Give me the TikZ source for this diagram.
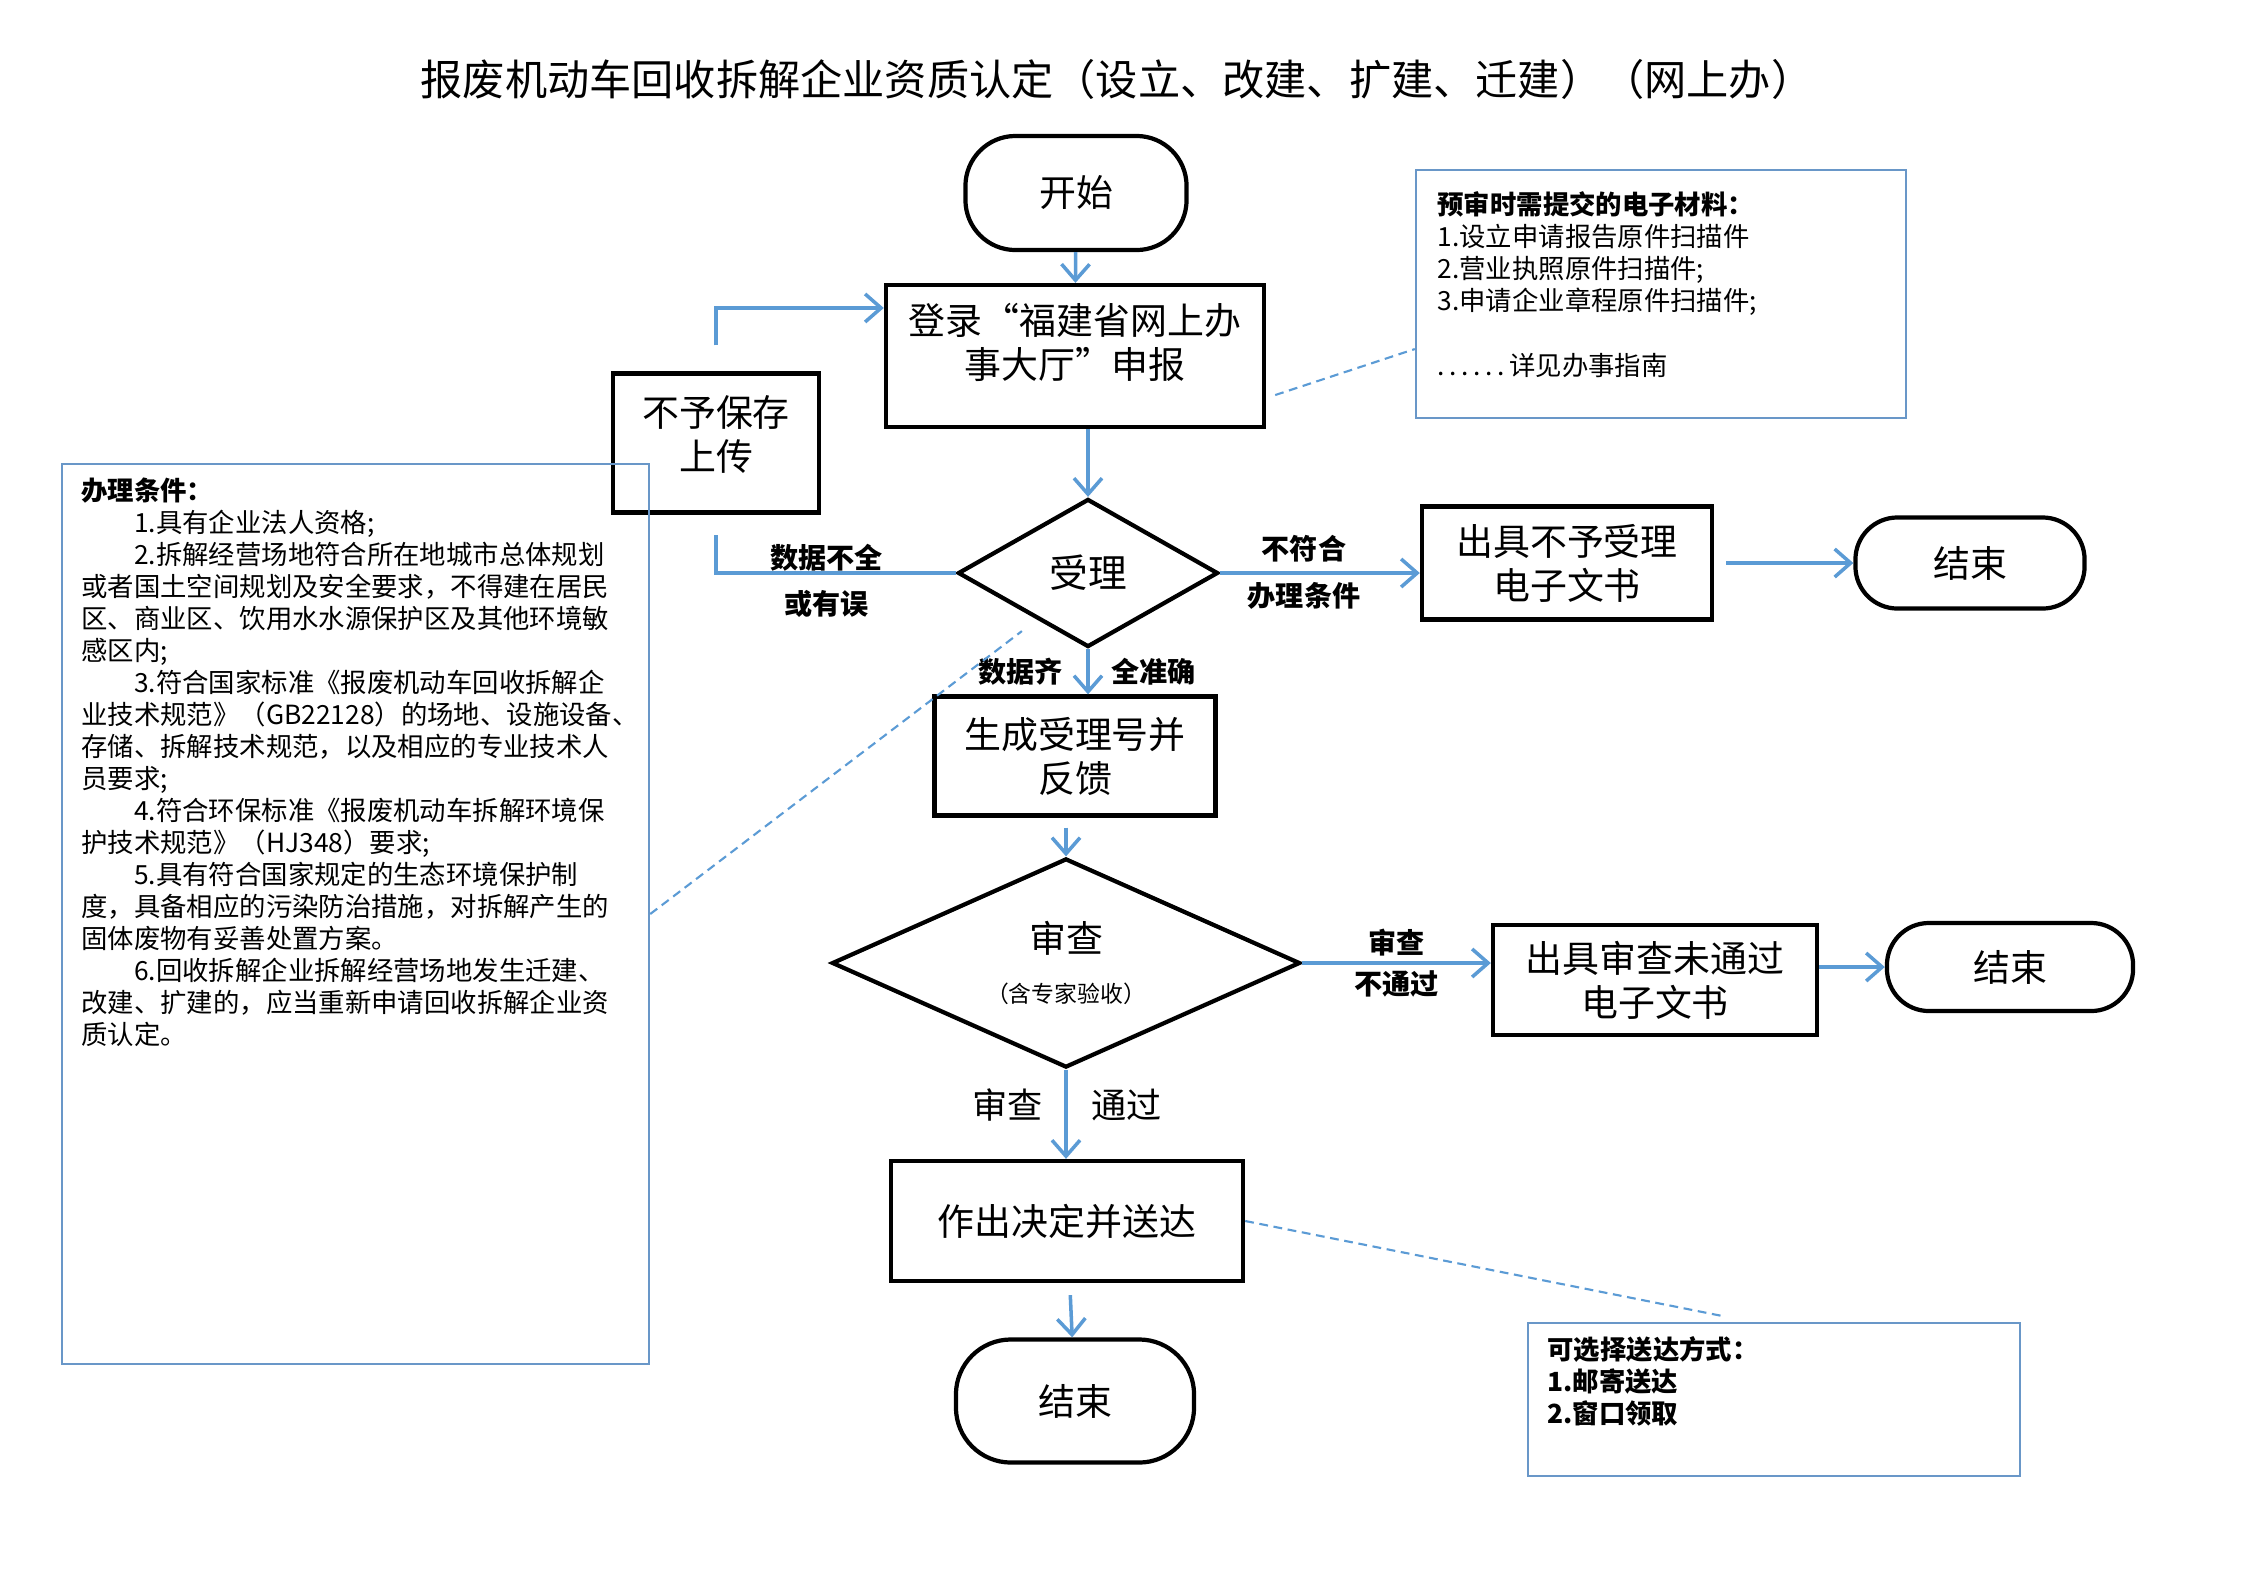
\documentclass[tikz,border=0pt]{standalone}
\usepackage{fontspec}
\setmainfont{Noto Sans CJK SC}
\usetikzlibrary{arrows.meta,positioning,shapes.geometric}
\definecolor{flowblue}{HTML}{5B9BD5}
\definecolor{noteblue}{HTML}{6997C8}

\begin{document}
\begin{tikzpicture}[x=0.01cm,y=-0.01cm,
  box/.style={draw,line width=1.2pt,align=center,inner sep=2pt,font=\fontsize{10.5}{12.5}\selectfont},
  term/.style={box,rounded corners=0.5cm},
  dec/.style={diamond,draw,line width=1.2pt,align=center,inner sep=0pt},
  note/.style={draw=noteblue,line width=0.6pt},
  notetxt/.style={align=left,inner sep=0pt,font=\fontsize{7.5}{9.1}\selectfont},
  lbl/.style={font=\fontsize{8}{9}\selectfont\bfseries,inner sep=1pt,text=black},
  a/.style={-{Straight Barb[length=1.6mm,width=2.8mm]},line width=1pt,flowblue},
  l/.style={line width=1pt,flowblue},
  dsh/.style={flowblue,line width=0.6pt,dash pattern=on 2.5pt off 1.6pt}]
\fill[white,use as bounding box] (0,0) rectangle (2245,1587);
\node (title) at (1117,79) {\fontsize{12}{14}\selectfont 报废机动车回收拆解企业资质认定（设立、改建、扩建、迁建）（网上办）};
% main flow
\node[term,minimum width=2.21cm,minimum height=1.14cm] (start) at (1076,193) {开始};
\node[box,minimum width=3.78cm,minimum height=1.42cm] (login) at (1075,356) {登录“福建省网上办\\事大厅”申报\\[-4pt]\mbox{}};
\node[box,minimum width=2.06cm,minimum height=1.39cm] (reject) at (716,443) {不予保存\\上传\\[-7pt]\mbox{}};
\node[dec,aspect=1.76,minimum width=2.6cm,minimum height=1.48cm,font=\fontsize{11}{13}\selectfont] (accept) at (1088,573) {受理};
\node[box,minimum width=2.9cm,minimum height=1.13cm] (refuse) at (1567,563) {出具不予受理\\电子文书};
\node[term,minimum width=2.29cm,minimum height=0.91cm,rounded corners=0.42cm] (endA) at (1970,563) {结束};
\node[box,minimum width=2.81cm,minimum height=1.19cm] (number) at (1075,756) {生成受理号并\\反馈};
\node[dec,aspect=2.24,minimum width=4.68cm,minimum height=2.09cm,font=\fontsize{10.5}{13}\selectfont] (review) at (1066,963) {审查\\[1pt]\fontsize{6.5}{8}\selectfont（含专家验收）};
\node[box,minimum width=3.24cm,minimum height=1.1cm] (fail) at (1655,980) {出具审查未通过\\电子文书};
\node[term,minimum width=2.46cm,minimum height=0.88cm,rounded corners=0.42cm] (endB) at (2010,967) {结束};
\node[box,minimum width=3.52cm,minimum height=1.2cm] (decide) at (1067,1221) {作出决定并送达};
\node[term,minimum width=2.38cm,minimum height=1.23cm,rounded corners=0.55cm] (endC) at (1075,1401) {结束};
% notes
\node[note,minimum width=5.87cm,minimum height=9cm] (cond) at (355.5,914) {};
\node[notetxt,anchor=north west] (condtxt) at ([xshift=0.2cm,yshift=-0.14cm]cond.north west) {{\bfseries 办理条件：}\\
　　1.具有企业法人资格;\\
　　2.拆解经营场地符合所在地城市总体规划\\
或者国土空间规划及安全要求，不得建在居民\\
区、商业区、饮用水水源保护区及其他环境敏\\
感区内;\\
　　3.符合国家标准《报废机动车回收拆解企\\
业技术规范》（GB22128）的场地、设施设备、\\
存储、拆解技术规范，以及相应的专业技术人\\
员要求;\\
　　4.符合环保标准《报废机动车拆解环境保\\
护技术规范》（HJ348）要求;\\
　　5.具有符合国家规定的生态环境保护制\\
度，具备相应的污染防治措施，对拆解产生的\\
固体废物有妥善处置方案。\\
　　6.回收拆解企业拆解经营场地发生迁建、\\
改建、扩建的，应当重新申请回收拆解企业资\\
质认定。};
\node[note,minimum width=4.9cm,minimum height=2.48cm] (pre) at (1661,294) {};
\node[notetxt,anchor=north west] (pretxt) at ([xshift=0.22cm,yshift=-0.22cm]pre.north west) {{\bfseries 预审时需提交的电子材料：}\\
1.设立申请报告原件扫描件\\
2.营业执照原件扫描件;\\
3.申请企业章程原件扫描件;\\[9.4pt]
\makebox[3.4pt][l]{.}\makebox[3.4pt][l]{.}\makebox[3.4pt][l]{.}\makebox[3.4pt][l]{.}\makebox[3.4pt][l]{.}\makebox[3.4pt][l]{.}详见办事指南};
\node[note,minimum width=4.92cm,minimum height=1.53cm] (deliver) at (1774,1399.5) {};
\node[notetxt,font=\fontsize{7.5}{9.1}\selectfont\bfseries,anchor=north west] (delivertxt) at ([xshift=0.2cm,yshift=-0.14cm]deliver.north west) {可选择送达方式：\\
1.邮寄送达\\
2.窗口领取};
% connectors
\draw[a] (start) -- (login);
\draw[a] (login.south -| accept.north) -- (accept.north);
\draw[l] (accept.west) -| ([yshift=-0.2cm]reject.south)
  node[lbl,pos=0.27,above,inner sep=0pt] (lblA) {数据不全}
  node[lbl,pos=0.27,below=0.12cm] (lblB) {或有误};
\draw[a] ([yshift=0.26cm]reject.north) |- ([yshift=0.48cm]login.west);
\draw[a] (accept.east) -- (accept.east -| refuse.west)
  node[lbl,pos=0.42,above=0.06cm] (lblC) {不符合}
  node[lbl,pos=0.42,below=0.04cm] (lblD) {办理条件};
\draw[a,shorten <=0.12cm] (refuse) -- (endA);
\draw[a] (accept.south) -- (accept.south |- number.north)
  node[lbl,midway,left=0.2cm] (lblE) {数据齐}
  node[lbl,midway,right=0.18cm] (lblF) {全准确};
\draw[a,shorten <=0.1cm] (number.south -| review.north) -- (review.north);
\draw[a] (review.east) -- (review.east -| fail.west)
  node[lbl,midway,above=0.02cm] (lblG) {审查}
  node[lbl,midway,below=0.02cm] (lblH) {不通过};
\draw[a] (fail.east |- endB.west) -- (endB.west);
\draw[a] (review.south) -- (review.south |- decide.north)
  node[pos=0.4,left=0.1cm,text=black,font=\fontsize{10}{12}\selectfont] (lblI) {审查}
  node[pos=0.4,right=0.12cm,text=black,font=\fontsize{10}{12}\selectfont] (lblJ) {通过};
\draw[a,shorten <=0.12cm] (decide) -- (endC);
% leaders to notes
\draw[dsh] ([xshift=0.09cm,yshift=-0.39cm]login.east) -- ([yshift=-0.55cm]pre.west);
\draw[dsh] (cond.east) -- ([yshift=-0.2cm]accept.south west);
\draw[dsh] (decide.east) -- ([xshift=-0.52cm,yshift=0.06cm]deliver.north);
\end{tikzpicture}
\end{document}
